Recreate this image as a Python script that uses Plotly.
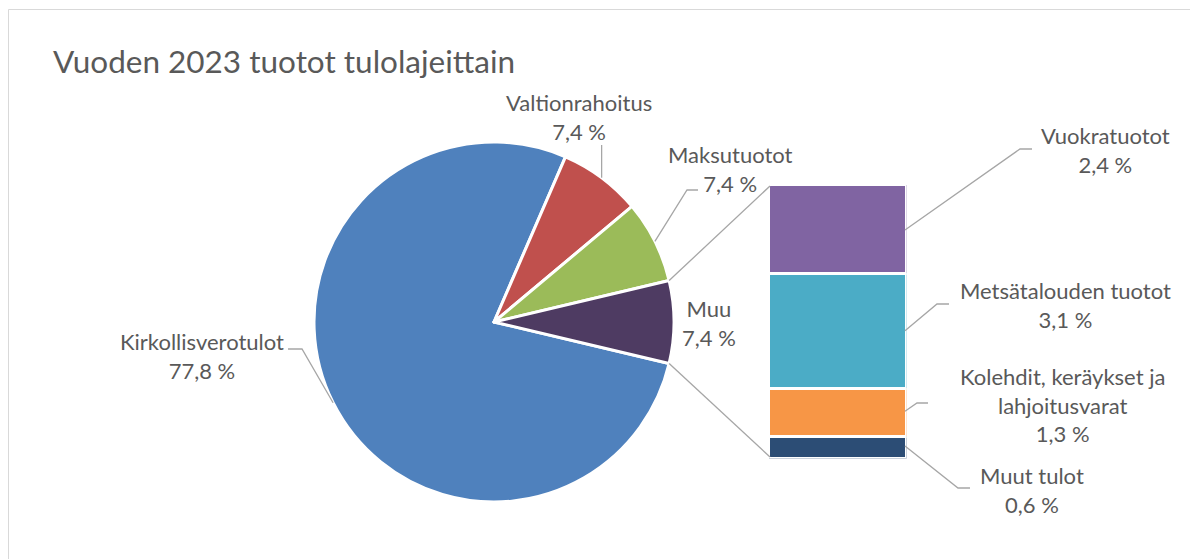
import math
import plotly.graph_objects as go

# The page body has an 8px default margin, so the figure is made 8px
# smaller on each axis and screen pixel coordinates are shifted by 8.
OFF = 8
W, H = 1198 - OFF, 559 - OFF

# ---------------- data ----------------
title_text = "Vuoden 2023 tuotot tulolajeittain"

pie_labels = ["Kirkollisverotulot", "Valtionrahoitus", "Maksutuotot", "Muu"]
pie_values = [77.8, 7.4, 7.4, 7.4]
pie_colors = ["#4F81BD", "#C0504D", "#9BBB59", "#4E3B62"]

bar_labels = ["Vuokratuotot", "Metsätalouden tuotot",
              "Kolehdit, keräykset ja<br>lahjoitusvarat", "Muut tulot"]
bar_values = [2.4, 3.1, 1.3, 0.6]          # top to bottom
bar_colors = ["#8064A2", "#4BACC6", "#F79646", "#2C4D75"]

# ---------------- layout geometry (screen pixels) ----------------
PIE_CX, PIE_CY, PIE_R = 494, 322, 180
BAR_X0, BAR_X1, BAR_Y0, BAR_Y1 = 770, 905, 186, 457
SEP = 3
FONT = "Lato"
TXT = "#595959"
LEAD = "#A6A6A6"
LBL_SIZE = 22


def px(x):
    return (x - OFF) / W


def py(y):
    return 1 - (y - OFF) / H


def fmt(v):
    return f"{v:.1f}".replace(".", ",") + " %"


fig = go.Figure()

# ---------------- pie ----------------
total = sum(pie_values)
rotation = 90 + 180 * pie_values[-1] / total
fig.add_trace(go.Pie(
    labels=pie_labels, values=pie_values, sort=False, direction="clockwise",
    rotation=rotation, textinfo="none", hoverinfo="label+percent",
    marker=dict(colors=pie_colors, line=dict(color="white", width=SEP)),
    domain=dict(x=[px(PIE_CX - PIE_R), px(PIE_CX + PIE_R)],
                y=[py(PIE_CY + PIE_R), py(PIE_CY - PIE_R)]),
    showlegend=False,
))


def slice_angles(i):
    start = rotation + 360 * sum(pie_values[:i]) / total
    end = start + 360 * pie_values[i] / total
    return start, end


def on_circle(a_deg, r=PIE_R):
    a = math.radians(a_deg)
    return PIE_CX + r * math.sin(a), PIE_CY - r * math.cos(a)


# ---------------- stacked bar ----------------
bar_total = sum(bar_values)
for lab, val, col in reversed(list(zip(bar_labels, bar_values, bar_colors))):
    fig.add_trace(go.Bar(
        x=[0], y=[val], width=[1], name=lab.replace("<br>", " "),
        marker=dict(color=col, line=dict(color="white", width=SEP)),
        showlegend=False, hoverinfo="name+y",
    ))

fig.update_layout(
    barmode="stack",
    xaxis=dict(domain=[px(BAR_X0 - SEP / 2), px(BAR_X1 + SEP / 2)],
               range=[-0.5, 0.5], visible=False, fixedrange=True),
    yaxis=dict(domain=[py(BAR_Y1 + SEP / 2), py(BAR_Y0 - SEP / 2)],
               range=[0, bar_total], visible=False, fixedrange=True),
)


def bar_y(v):
    return BAR_Y1 - v / bar_total * (BAR_Y1 - BAR_Y0)


def bar_mid(i):
    top = bar_total - sum(bar_values[:i])
    bot = top - bar_values[i]
    return BAR_X1, bar_y((top + bot) / 2)


shapes = []
annotations = []


def path_shape(points):
    d = "M " + " L ".join(f"{px(x):.5f},{py(y):.5f}" for x, y in points)
    return dict(type="path", xref="paper", yref="paper", path=d,
                line=dict(color=LEAD, width=1.3), layer="above")


def label(text, cx, cy, size=LBL_SIZE):
    annotations.append(dict(
        text=text, x=px(cx), y=py(cy), xref="paper", yref="paper",
        xanchor="center", yanchor="middle", align="center", showarrow=False,
        font=dict(family=FONT, size=size, color=TXT)))


# connector lines pie -> bar
muu_start, muu_end = slice_angles(3)
p1 = on_circle(muu_start)
p2 = on_circle(muu_end)
shapes.append(path_shape([p1, (BAR_X0, BAR_Y0)]))
shapes.append(path_shape([p2, (BAR_X0, BAR_Y1)]))

# pie labels: center of text block, elbow points
pie_label_pos = [(202, 356), (579, 117), (730, 169), (709, 323)]
pie_elbows = [[(302, 349), (288, 349)], None, [(687, 190), (698, 190)], []]
for i, (lab, val) in enumerate(zip(pie_labels, pie_values)):
    cx, cy = pie_label_pos[i]
    label(f"{lab}<br>{fmt(val)}", cx, cy)
    s, e = slice_angles(i)
    anchor = on_circle((s + e) / 2)
    el = pie_elbows[i]
    if el is None:
        shapes.append(path_shape([anchor, (anchor[0], 145)]))
    elif el:
        shapes.append(path_shape([anchor] + el))

# bar labels
bar_label_pos = [(1105, 150), (1065, 305), (1062, 405), (1032, 490)]
bar_elbows = [[(1020, 149), (1032, 149)], [(937, 304), (949, 304)],
              [(917, 403), (928, 403)], [(958, 488), (970, 488)]]
for i, (lab, val) in enumerate(zip(bar_labels, bar_values)):
    cx, cy = bar_label_pos[i]
    label(f"{lab}<br>{fmt(val)}", cx, cy)
    shapes.append(path_shape([bar_mid(i)] + bar_elbows[i]))

# title
annotations.append(dict(
    text=title_text, x=px(51), y=py(61), xref="paper", yref="paper",
    xanchor="left", yanchor="middle", showarrow=False,
    font=dict(family=FONT, size=31.5, color=TXT)))

# chart border
shapes.append(dict(type="rect", xref="paper", yref="paper",
                   x0=px(8.5), x1=px(1210), y0=py(580), y1=py(9.5),
                   line=dict(color="#D9D9D9", width=1), layer="below"))

fig.update_layout(
    width=W, height=H, margin=dict(l=0, r=0, t=0, b=0),
    paper_bgcolor="white", plot_bgcolor="white",
    shapes=shapes, annotations=annotations,
    font=dict(family=FONT, color=TXT),
)

fig.write_html("out.html")
